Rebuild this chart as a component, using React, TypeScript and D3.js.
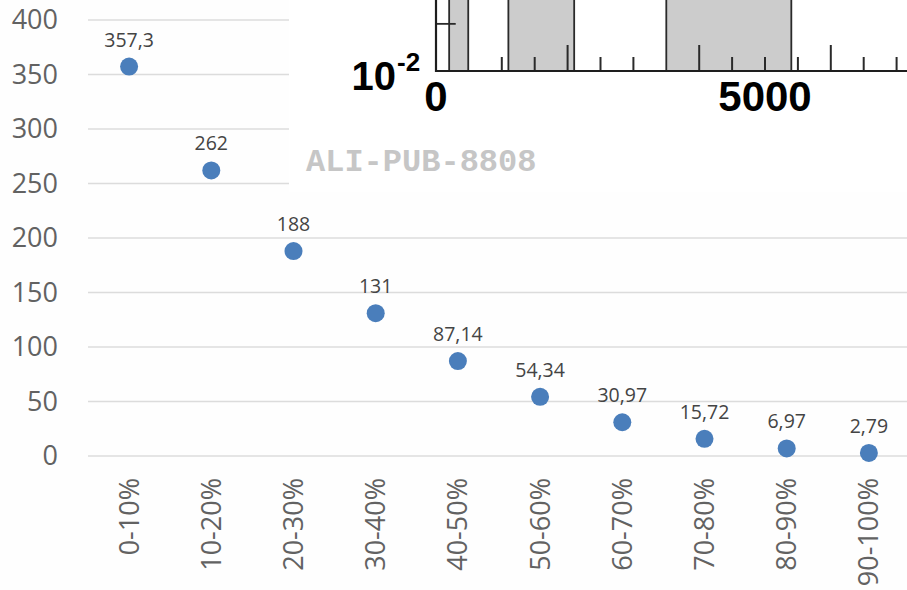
import React from "react";
import * as d3 from "d3";

const categories = ["0-10%", "10-20%", "20-30%", "30-40%", "40-50%", "50-60%", "60-70%", "70-80%", "80-90%", "90-100%"];
const values = [357.3, 262, 188, 131, 87.14, 54.34, 30.97, 15.72, 6.97, 2.79];
const valueLabels = ["357,3", "262", "188", "131", "87,14", "54,34", "30,97", "15,72", "6,97", "2,79"];
const yTicks = [0, 50, 100, 150, 200, 250, 300, 350, 400];

// inset (cropped histogram fragment)
const insetBars = [
  { x0: 200, x1: 490 },
  { x0: 1100, x1: 2100 },
  { x0: 3500, x1: 5400 },
];
const insetMinorTicks = [1000, 1500, 2500, 3000, 4500, 5000, 5500, 6500, 7000];
const insetMajorTicks = [2000, 4000, 6000];
const insetTickLabels = [0, 5000];
const insetCross = { x0: 0, x1: 300, y: 0.0229 };
const watermark = "ALI-PUB-8808";

const W = 907;
const H = 590;

export default function App() {
  const x = d3.scaleBand<string>().domain(categories).range([88, 910]);
  const y = d3.scaleLinear().domain([0, 400]).range([456, 20]);
  const cx = (c: string) => (x(c) as number) + x.bandwidth() / 2;

  const ix = d3.scaleLinear().domain([0, 5000]).range([436, 765]);
  const iy = d3.scaleLog().domain([0.01, 0.1]).range([71, -60]);
  const base = iy(0.01);

  const font = "'Open Sans', 'Liberation Sans', sans-serif";
  const bold = "'Liberation Sans', Arial, Helvetica, sans-serif";

  return (
    <svg width={W} height={H} style={{ position: "absolute", left: 0, top: 0, background: "#fff" }}>
      <rect x={0} y={0} width={W} height={H} fill="#fefefe" />
      {/* gridlines */}
      {yTicks.map((t) => (
        <line key={"g" + t} x1={88} x2={W} y1={y(t)} y2={y(t)} stroke="#dcdcdc" strokeWidth={1.3} />
      ))}
      {/* y tick labels */}
      {yTicks.map((t) => (
        <text key={"yl" + t} x={58} y={y(t)} dy="0.35em" textAnchor="end" fontFamily={font} fontSize={27} fill="#626262">
          {t}
        </text>
      ))}
      {/* x labels */}
      {categories.map((c) => (
        <text
          key={"xl" + c}
          transform={`translate(${cx(c)},478) rotate(-90)`}
          textAnchor="end"
          dy="0.35em"
          fontFamily={font}
          fontSize={27}
          fill="#626262"
        >
          {c}
        </text>
      ))}

      {/* inset cover */}
      <rect x={289} y={0} width={W - 289} height={192} fill="#ffffff" />

      {/* points */}
      {values.map((v, i) => (
        <circle key={"p" + i} cx={cx(categories[i])} cy={y(v)} r={9} fill="#4a7ebb" />
      ))}
      {values.map((v, i) => (
        <text key={"dl" + i} x={cx(categories[i])} y={y(v) - 20} textAnchor="middle" fontFamily={font} fontSize={19.5} fill="#444">
          {valueLabels[i]}
        </text>
      ))}

      {/* inset histogram fragment */}
      <g>
        {insetBars.map((b, i) => (
          <rect
            key={"ib" + i}
            x={ix(b.x0)}
            y={-10}
            width={ix(b.x1) - ix(b.x0)}
            height={base + 10}
            fill="#cccccc"
            stroke="#2a2a2a"
            strokeWidth={1.8}
          />
        ))}
        <line x1={ix(insetCross.x0)} x2={ix(insetCross.x1)} y1={iy(insetCross.y)} y2={iy(insetCross.y)} stroke="#2a2a2a" strokeWidth={1.8} />
        {insetMinorTicks.map((t) => (
          <line key={"imt" + t} x1={ix(t)} x2={ix(t)} y1={base} y2={base - 14} stroke="#2a2a2a" strokeWidth={2} />
        ))}
        {insetMajorTicks.map((t) => (
          <line key={"iMt" + t} x1={ix(t)} x2={ix(t)} y1={base} y2={base - 26} stroke="#2a2a2a" strokeWidth={2} />
        ))}
        <line x1={ix(0)} x2={W} y1={base} y2={base} stroke="#1e1e1e" strokeWidth={2.2} />
        <line x1={ix(0)} x2={ix(0)} y1={0} y2={base + 1} stroke="#1e1e1e" strokeWidth={2.2} />
        {insetTickLabels.map((t) => (
          <text key={"itl" + t} x={ix(t)} y={111} textAnchor="middle" fontFamily={bold} fontWeight="bold" fontSize={42} fill="#000">
            {t}
          </text>
        ))}
        <text x={396} y={90} textAnchor="end" fontFamily={bold} fontWeight="bold" fontSize={40} fill="#000">
          10
        </text>
        <text x={397} y={71} fontFamily={bold} fontWeight="bold" fontSize={26} fill="#000">
          -2
        </text>
      </g>

      {/* watermark */}
      <text x={306} y={171} fontFamily="'Liberation Mono', 'DejaVu Sans Mono', monospace" fontWeight="bold" fontSize={32} fill="#c6c6c6">
        {watermark}
      </text>
    </svg>
  );
}
